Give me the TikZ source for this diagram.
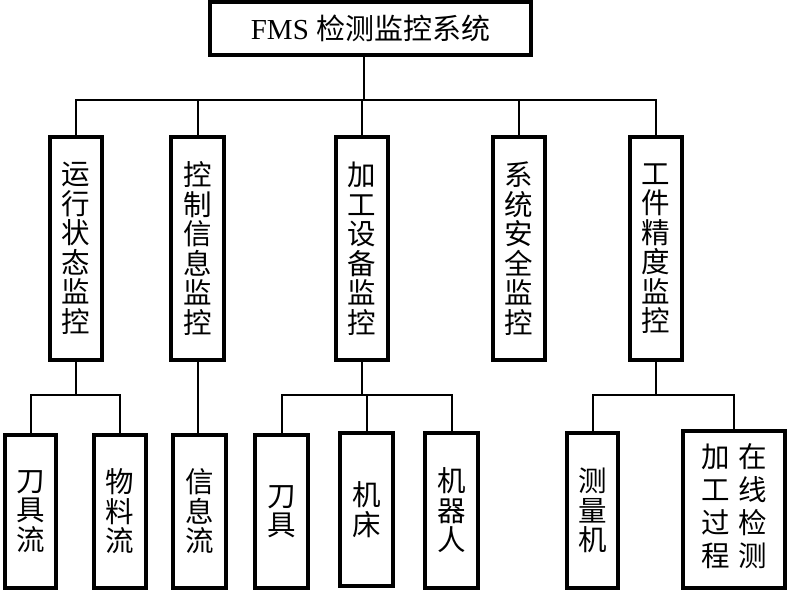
\documentclass[tikz,border=0pt]{standalone}
\usepackage{fontspec}
\setmainfont{Liberation Serif}
\newfontfamily\cjk{Noto Sans CJK SC}
\usetikzlibrary{calc}
\begin{document}
\begin{tikzpicture}[x=1pt,y=-1pt,
  box/.style={draw,line width=4pt,inner sep=0pt,align=center,font=\cjk\fontsize{28.5}{29.5}\selectfont},
  conn/.style={line width=2pt}]
\useasboundingbox (0,0) rectangle (788,593);
% title
\node[box,minimum width=321,minimum height=53,font=\fontsize{29}{31}\selectfont] (t) at (370.5,28.5) {FMS {\cjk 检测监控系统}};
% level 1
\node[box,minimum width=52,minimum height=223] (a) at (76,248.5) {运\\行\\状\\态\\监\\控};
\node[box,minimum width=53,minimum height=223] (b) at (197.5,248.5) {控\\制\\信\\息\\监\\控};
\node[box,minimum width=52,minimum height=223] (c) at (362,248.5) {加\\工\\设\\备\\监\\控};
\node[box,minimum width=52,minimum height=223] (d) at (519,248.5) {系\\统\\安\\全\\监\\控};
\node[box,minimum width=52,minimum height=223] (e) at (656,248.5) {工\\件\\精\\度\\监\\控};
% level 2
\node[box,minimum width=51,minimum height=153] (a1) at (30.5,511.5) {刀\\具\\流};
\node[box,minimum width=52,minimum height=153] (a2) at (120,511.5) {物\\料\\流};
\node[box,minimum width=53,minimum height=153] (b1) at (199.5,511.5) {信\\息\\流};
\node[box,minimum width=53,minimum height=153] (c1) at (281.5,511.5) {刀\\具};
\node[box,minimum width=53,minimum height=153] (c2) at (366.5,509.5) {机\\床};
\node[box,minimum width=53,minimum height=155] (c3) at (451.5,510.5) {机\\器\\人};
\node[box,minimum width=51,minimum height=155] (e1) at (592.5,510.5) {测\\量\\机};
\node[box,minimum width=102,minimum height=157] (e2) at (734,509.5)
  {\begin{tabular}{@{}c@{\hspace{9pt}}c@{}}加&在\\工&线\\过&检\\程&测\end{tabular}};
% connectors
\coordinate (bar) at (364,100);
\coordinate (lo) at (0,395);
\draw[conn] (t.south -| bar) -- (bar);
\draw[conn] (a.north) |- (bar) -| (e.north);
\draw[conn] (b.north) -- (b.north |- bar);
\draw[conn] (c.north) -- (c.north |- bar);
\draw[conn] (d.north) -- (d.north |- bar);
% sub trees
\draw[conn] (a.south) -- (a.south |- lo);
\draw[conn] (a1.north) |- (a.south |- lo) -| (a2.north);
\draw[conn] (b.south) -- (b.south |- b1.north);
\draw[conn] (c.south) -- (c.south |- lo);
\draw[conn] (c1.north) |- (c.south |- lo) -| (c3.north);
\draw[conn] (c2.north) -- (c2.north |- lo);
\draw[conn] (e.south) -- (e.south |- lo);
\draw[conn] (e1.north) |- (e.south |- lo) -| (e2.north);
\end{tikzpicture}
\end{document}
